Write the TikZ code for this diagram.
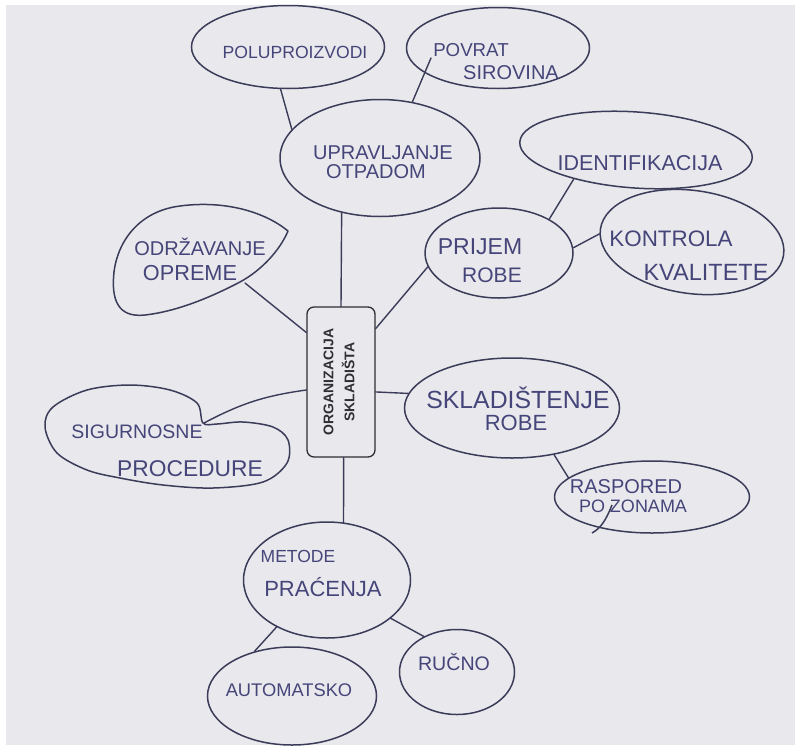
\documentclass[tikz,border=0pt]{standalone}
\usepackage{fontspec}
\setmainfont{Liberation Sans}
\usetikzlibrary{shapes.geometric}
\definecolor{paper}{HTML}{E9E8EC}
\definecolor{ink}{HTML}{3A3C5A}
\definecolor{pen}{HTML}{45457A}
\definecolor{boxc}{HTML}{2F2F33}
\newcommand\hwsz[1]{\fontsize{#1}{#1}\selectfont}
\begin{document}
\begin{tikzpicture}[x=1pt,y=-1pt,
  bub/.style={ellipse, draw=ink, line width=1.5pt, inner sep=0pt},
  conn/.style={draw=ink, line width=1.4pt, line cap=round},
  blob/.style={draw=ink, line width=1.5pt, line join=round},
  hw/.style={text=pen, inner sep=0pt, anchor=base}]
\useasboundingbox (0,0) rectangle (795,745);
\fill[white] (0,0) rectangle (795,745);
\fill[paper] (6,5) rectangle (795,745);

% bubbles
\node[bub, minimum width=193pt, minimum height=83pt] (polu) at (288,47) {};
\node[bub, minimum width=183pt, minimum height=81pt] (povrat) at (498,48) {};
\node[bub, minimum width=200pt, minimum height=117pt] (uprav) at (380,158) {};
\node[bub, minimum width=233pt, minimum height=76pt, rotate=-4] (ident) at (636,150) {};
\node[bub, minimum width=148pt, minimum height=90pt] (prijem) at (499,253) {};
\node[bub, minimum width=185pt, minimum height=103pt, rotate=-8] (kontrola) at (692,242) {};
\node[bub, minimum width=215pt, minimum height=100pt] (skl) at (512,408) {};
\node[bub, minimum width=195pt, minimum height=72pt] (rasp) at (652,497) {};
\node[bub, minimum width=167pt, minimum height=116pt] (metode) at (327,580) {};
\node[bub, minimum width=169pt, minimum height=98pt] (auto) at (292,696) {};
\node[bub, minimum width=115pt, minimum height=85pt] (rucno) at (457,672) {};

% hand-drawn irregular outlines
\draw[blob] (288,231) .. controls (265,212) and (225,200) .. (180,206)
  .. controls (140,211) and (118,240) .. (114,272)
  .. controls (111,300) and (118,318) .. (145,315)
  .. controls (180,311) and (215,295) .. (240,282)
  .. controls (262,270) and (280,250) .. (288,231) -- cycle;
\draw[blob] plot[smooth cycle, tension=0.55] coordinates {(203,423) (197,403) (170,390) (130,385) (87,390) (53,407) (45,427) (57,453) (87,470) (120,478) (163,485) (213,488) (263,482) (287,463) (288,440) (273,427) (243,422) (217,424)};
\draw[blob] (612,505) .. controls (606,520) and (601,528) .. (592,533);

% central box
\node[draw=boxc, line width=1.3pt, rounded corners=7pt, minimum width=68pt, minimum height=150pt, inner sep=0pt] (org) at (341,382) {};
\node[rotate=90, align=center, inner sep=0pt, text=boxc, font=\bfseries\fontsize{14}{21}\selectfont] (orgt) at (339,382) {ORGANIZACIJA\\SKLADIŠTA};

% attachment points
\coordinate (pv) at (431,58);
\coordinate (odrzc) at (245,283);
\coordinate (sigc) at (204,423);

% connectors
\draw[conn] (polu.260) -- (uprav.162);
\draw[conn] (pv) -- (uprav.60);
\draw[conn] (uprav.235) -- (org.north);
\draw[conn] (odrzc) -- (org.125);
\draw[conn] (org.57) -- (prijem.191);
\draw[conn] (prijem.34) -- (ident.209);
\draw[conn] (prijem.4) -- (kontrola.183);
\draw[conn] (org.193) to[bend right=10] (sigc);
\draw[conn] (org.-16) -- (skl.172);
\draw[conn] (org.-88) -- (metode.74);
\draw[conn] (skl.-48) -- (rasp.167);
\draw[conn] (metode.223) -- (auto.130);
\draw[conn] (metode.-31) -- (rucno.133);

% handwritten texts
\node[hw, font=\hwsz{17.6}] (t1) at (295,58) {POLUPROIZVODI};
\node[hw, font=\hwsz{18.7}] (t2) at (471,56) {POVRAT};
\node[hw, font=\hwsz{20}] (t3) at (511,79) {SIROVINA};
\node[hw, font=\hwsz{20}] (t4) at (383,159) {UPRAVLJANJE};
\node[hw, font=\hwsz{20}] (t5) at (376,178) {OTPADOM};
\node[hw, font=\hwsz{21.5}] (t6) at (640,170) {IDENTIFIKACIJA};
\node[hw, font=\hwsz{23}] (t7) at (480,254) {PRIJEM};
\node[hw, font=\hwsz{21}] (t8) at (492,282.5) {ROBE};
\node[hw, font=\hwsz{22.4}] (t9) at (671,246) {KONTROLA};
\node[hw, font=\hwsz{23.5}] (t10) at (706,280) {KVALITETE};
\node[hw, font=\hwsz{20}] (t11) at (200,255) {ODRŽAVANJE};
\node[hw, font=\hwsz{21.7}] (t12) at (190,280) {OPREME};
\node[hw, font=\hwsz{19.5}] (t13) at (137,438) {SIGURNOSNE};
\node[hw, font=\hwsz{22.8}] (t14) at (190,476) {PROCEDURE};
\node[hw, font=\hwsz{24.8}] (t15) at (518,408) {SKLADIŠTENJE};
\node[hw, font=\hwsz{22}] (t16) at (516,430) {ROBE};
\node[hw, font=\hwsz{20}] (t17) at (626,493) {RASPORED};
\node[hw, font=\hwsz{18}] (t18) at (633,512) {PO ZONAMA};
\node[hw, font=\hwsz{17.5}] (t19) at (298,562) {METODE};
\node[hw, font=\hwsz{22}] (t20) at (323,596) {PRAĆENJA};
\node[hw, font=\hwsz{18.3}] (t21) at (289,696.6) {AUTOMATSKO};
\node[hw, font=\hwsz{19.6}] (t22) at (454,670) {RUČNO};
\end{tikzpicture}
\end{document}
